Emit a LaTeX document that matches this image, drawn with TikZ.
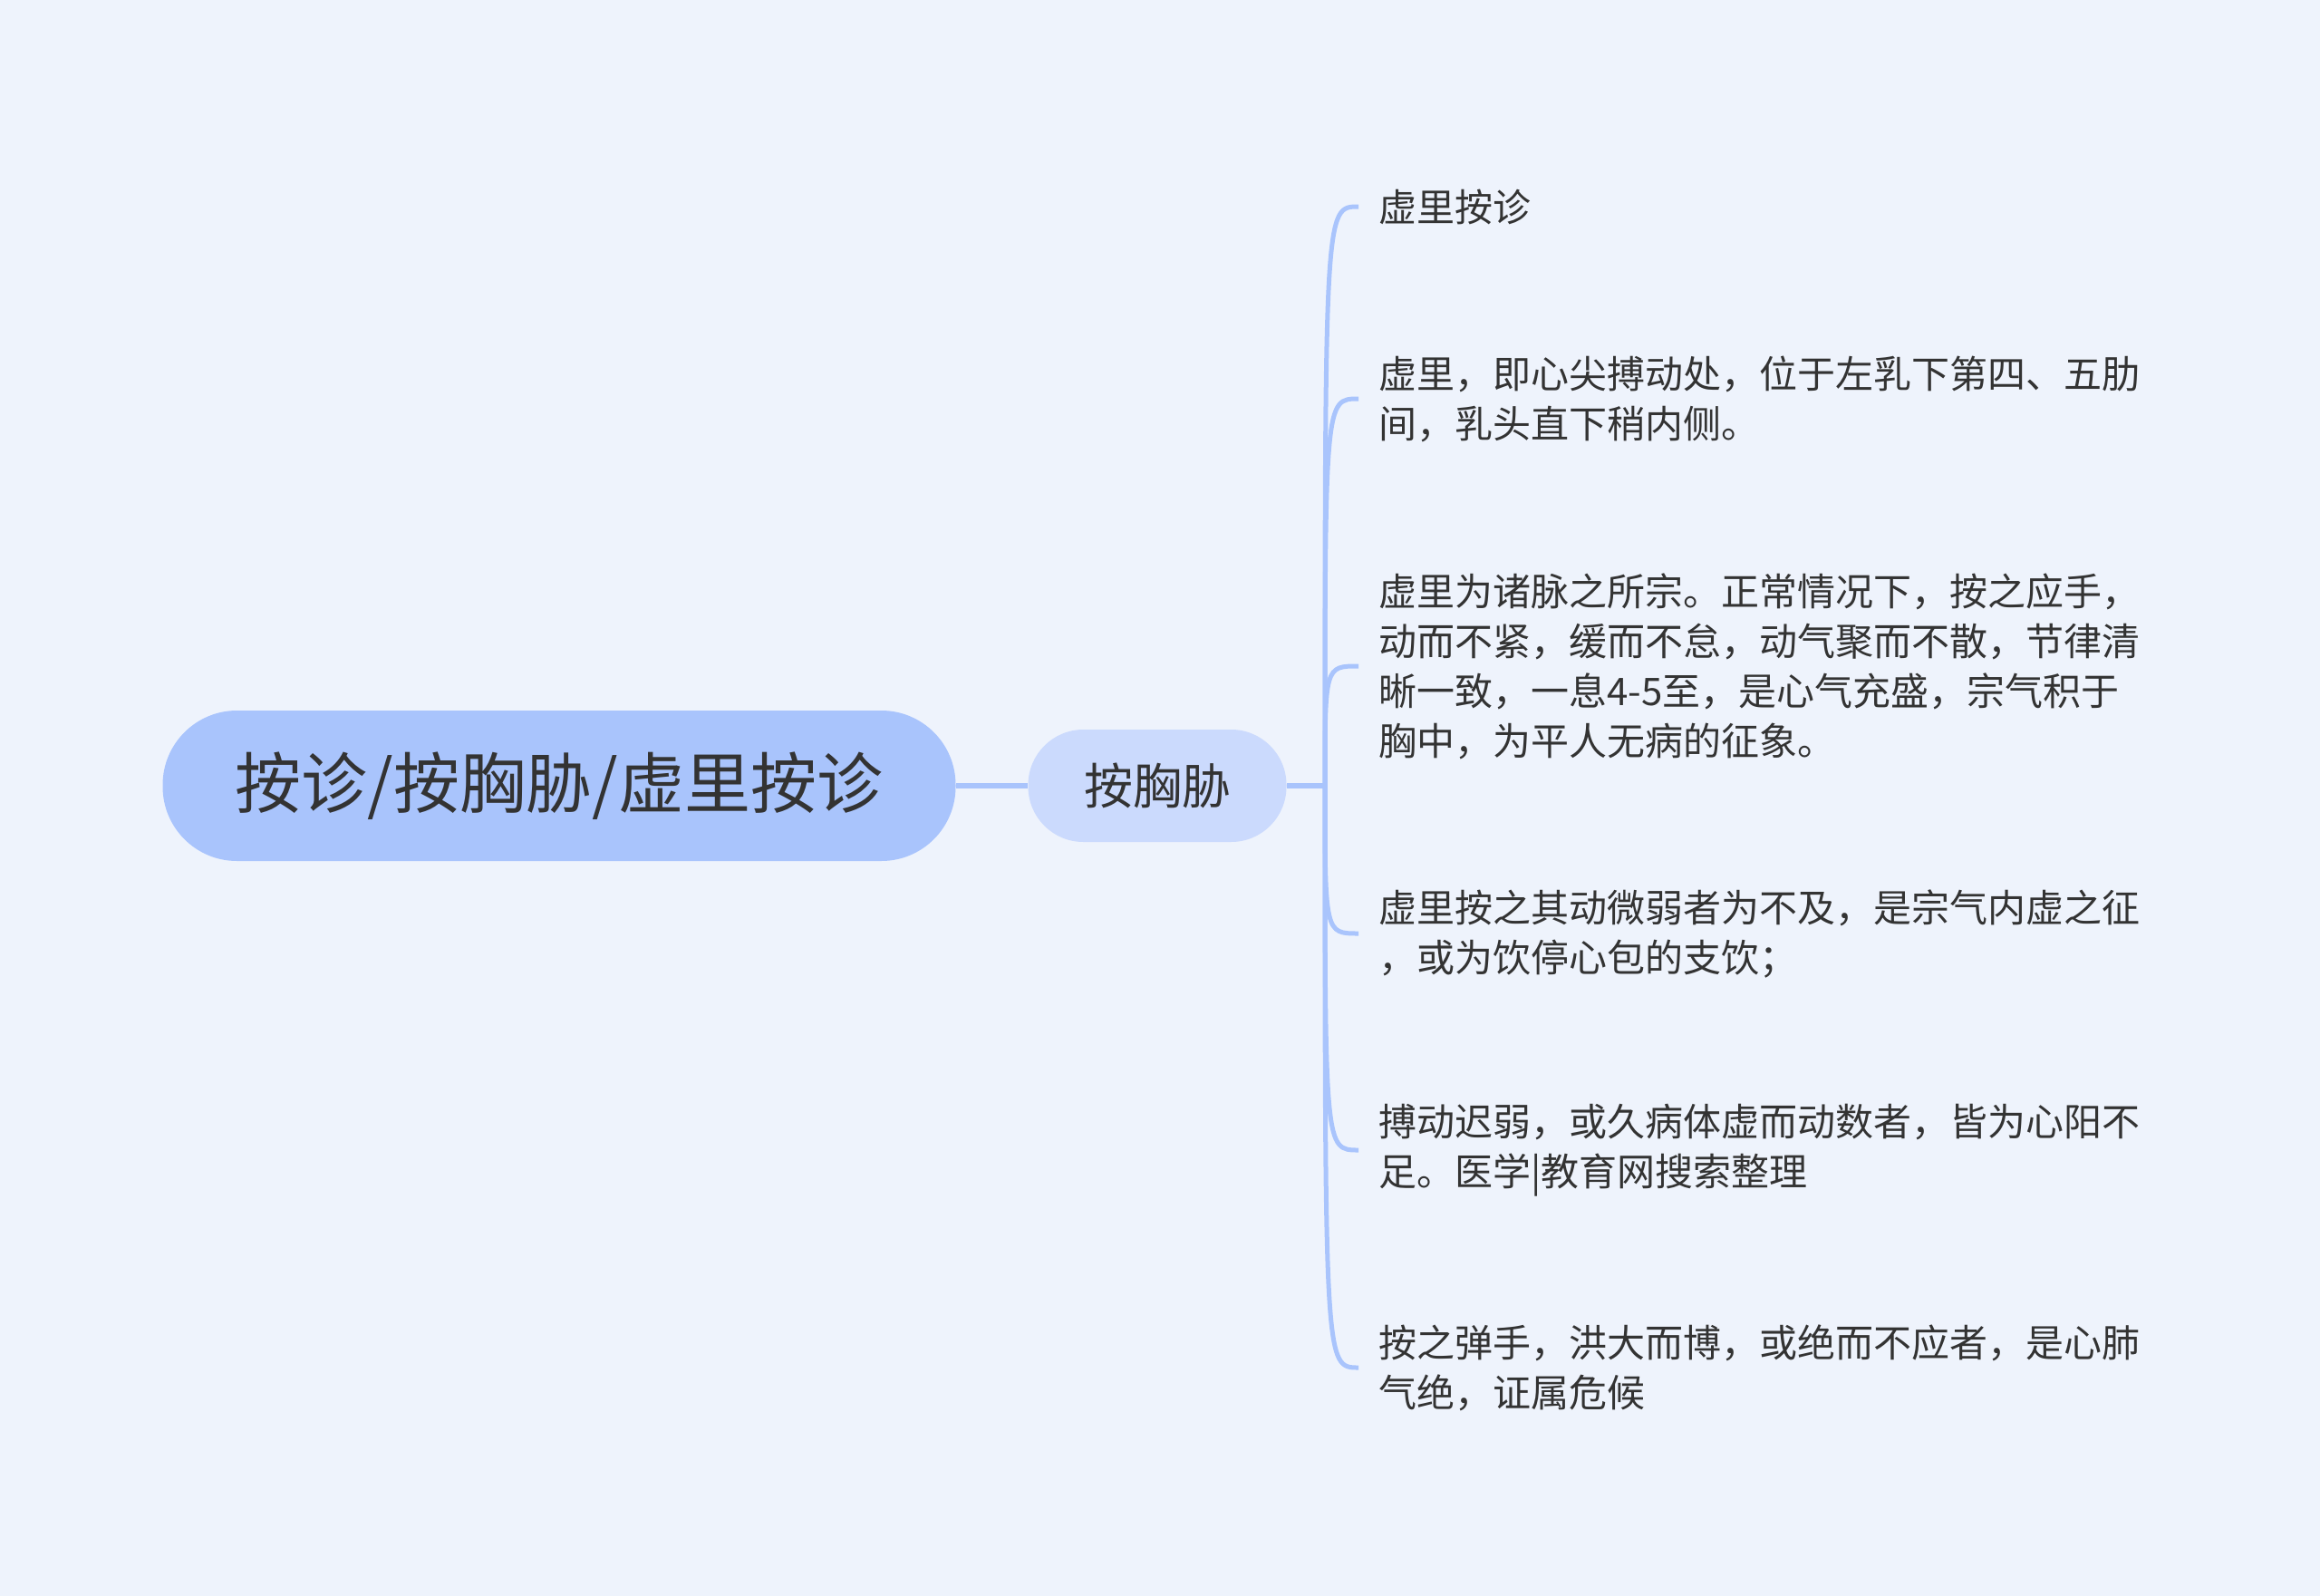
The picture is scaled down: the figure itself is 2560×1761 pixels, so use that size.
\documentclass[tikz,border=0pt]{standalone}
\usepackage{fontspec}
\setmainfont{Noto Sans CJK SC}

\definecolor{bgcol}{HTML}{EEF3FC}
\definecolor{rootcol}{HTML}{A9C4FC}
\definecolor{midcol}{HTML}{CBDAFD}
\definecolor{linecol}{HTML}{A9C4FC}
\definecolor{txtcol}{HTML}{333333}

\tikzset{
  rootbox/.style={fill=rootcol, rounded corners=41pt, minimum width=437.5pt,
    minimum height=83pt, inner sep=0pt, text=txtcol,
    font=\fontsize{36.5}{44}\selectfont},
  midbox/.style={fill=midcol, rounded corners=30.5pt, minimum width=142.5pt,
    minimum height=62pt, inner sep=0pt, text=txtcol,
    font=\fontsize{27}{32}\selectfont},
  leafbox/.style={anchor=west, align=left, inner xsep=11pt, inner ysep=0pt,
    text=txtcol, font=\fontsize{21}{27.5}\selectfont},
  link/.style={draw=linecol, line width=2.75pt},
  branch/.style={draw=linecol, line width=2.5pt}
}

\begin{document}
\begin{tikzpicture}[x=0.5pt, y=-0.5pt]
    % Background of the sheet
    \fill[bgcol] (0,0) rectangle (2560,1761);
    \useasboundingbox (0,0) rectangle (2560,1761);

    % Root topic and its child
    \node[rootbox] (root) at (617,867) {按诊/按胸胁/虚里按诊};
    \node[midbox] (mid) at (1277,867) {按胸胁};
    \coordinate (hub) at (1462,867);

    % The six notes on the right
    \node[leafbox] (l1) at (1499,228) {虚里按诊};
    \node[leafbox] (l2) at (1499,440) {虚里，即心尖搏动处，位于左乳下第四、五肋\\间，乳头直下稍内侧。};
    \node[leafbox] (l3) at (1499,735) {虚里为诸脉之所宗。正常情况下，按之应手，\\动而不紧，缓而不怠，动气聚而不散，节律清\\晰一致，一息4-5至，是心气充盛，宗气积于\\胸中，为平人无病的征象。};
    \node[leafbox] (l4) at (1499,1030) {虚里按之其动微弱者为不及，是宗气内虚之征\\，或为饮停心包的支饮；};
    \node[leafbox] (l5) at (1499,1269) {搏动迟弱，或久病体虚而动数者，皆为心阳不\\足。医学|教育网搜索整理};
    \node[leafbox] (l6) at (1499,1509) {按之弹手，洪大而博，或绝而不应者，是心肺\\气绝，证属危候};

    % Connectors
    \draw[link] (root.east) -- (mid.west);
    \draw[link] (mid.east) -- (hub);
    \foreach \n in {l1,l2,l3,l4,l5,l6}
        \draw[branch] (hub) .. controls (hub |- \n.west) .. (\n.west);

\end{tikzpicture}
\end{document}
